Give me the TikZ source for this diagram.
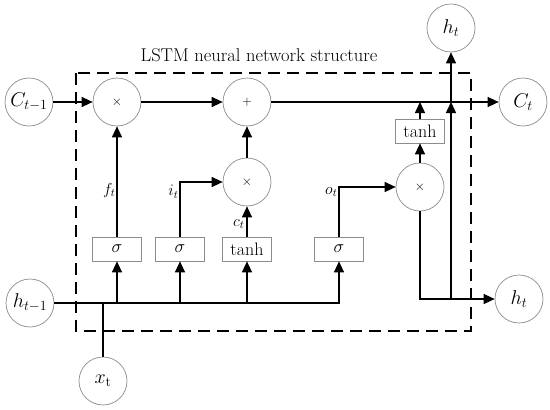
\RequirePackage{fix-cm}
\documentclass[tikz,border=0pt]{standalone}
\usepackage{amsmath,amssymb}
\usepackage{tikz}
\usetikzlibrary{arrows.meta,positioning}
\definecolor{Rim}{HTML}{8C8C8C}

\begin{document}
\begin{tikzpicture}[
    x=1pt,y=-1pt,
    state/.style={circle,draw=Rim,line width=0.7pt,minimum size=48pt,inner sep=0pt,
      font=\fontsize{20}{24}\selectfont},
    op/.style={circle,draw=Rim,line width=0.7pt,minimum size=48pt,inner sep=0pt,
      font=\fontsize{13}{15}\selectfont},
    gate/.style={draw=Rim,line width=0.7pt,minimum width=49pt,minimum height=24pt,inner sep=0pt,
      font=\fontsize{18}{20}\selectfont},
    lab/.style={font=\fontsize{16}{18}\selectfont,inner sep=1pt},
    frame/.style={line width=1.4pt,dash pattern=on 12pt off 7pt},
    arrow/.style={-{Triangle[length=11pt,width=10pt]},line width=1.4pt},
    line/.style={line width=1.4pt}
]
\useasboundingbox (0,0) rectangle (550,410);
\draw[frame] (76,73) rectangle (471,331);
\node[font=\fontsize{18.5}{21}\selectfont] (title) at (259,55) {LSTM neural network structure};
\node[state] (cprev) at (29,102) {$C_{t-1}$};
\node[op] (mul1) at (117,102) {$\times$};
\node[op] (add) at (247,102) {$+$};
\node[state] (cnext) at (523,102) {$C_t$};
\node[op] (mul2) at (247,182) {$\times$};
\node[op] (mul3) at (420,187) {$\times$};
\node[gate] (tanh2) at (420,131) {tanh};
\node[gate] (sig1) at (117,249) {$\sigma$};
\node[gate] (sig2) at (180,249) {$\sigma$};
\node[gate] (tanh1) at (247,249) {tanh};
\node[gate] (sig3) at (339,249) {$\sigma$};
\node[state] (htop) at (451,28) {$h_t$};
\node[state] (hout) at (519,299) {$h_t$};
\node[state] (hprev) at (30,303) {$h_{t-1}$};
\node[state] (xt) at (103,381) {$x_{\mathrm{t}}$};
\coordinate (split) at (451,299);
\draw[arrow] (cprev) -- (mul1);
\draw[arrow] (mul1) -- (add);
\draw[arrow] (add) -- (cnext);
\draw[arrow] (hprev) -| (sig3);
\draw[line] (xt) -- (xt |- hprev);
\draw[arrow] (sig1 |- hprev) -- (sig1);
\draw[arrow] (sig2 |- hprev) -- (sig2);
\draw[arrow] (tanh1 |- hprev) -- (tanh1);
\draw[arrow] (sig1) -- node[lab,left,pos=0.42] (ft) {$f_t$} (mul1);
\draw[arrow] (sig2) |- node[lab,left,pos=0.41] (it) {$i_t$} (mul2);
\draw[arrow] (tanh1) -- node[lab,left,pos=0.42,xshift=-1pt] (ct) {$c_t$} (mul2);
\draw[arrow] (mul2) -- (add);
\draw[arrow] (sig3) |- node[lab,left,pos=0.45] (ot) {$o_t$} (mul3);
\draw[arrow] (mul3) -- (tanh2);
\draw[arrow] (tanh2) -- (tanh2 |- add);
\draw[arrow] (mul3) |- (hout);
\draw[arrow] (split) -- (split |- add);
\draw[arrow] (split |- add) -- (htop);
\end{tikzpicture}
\end{document}
